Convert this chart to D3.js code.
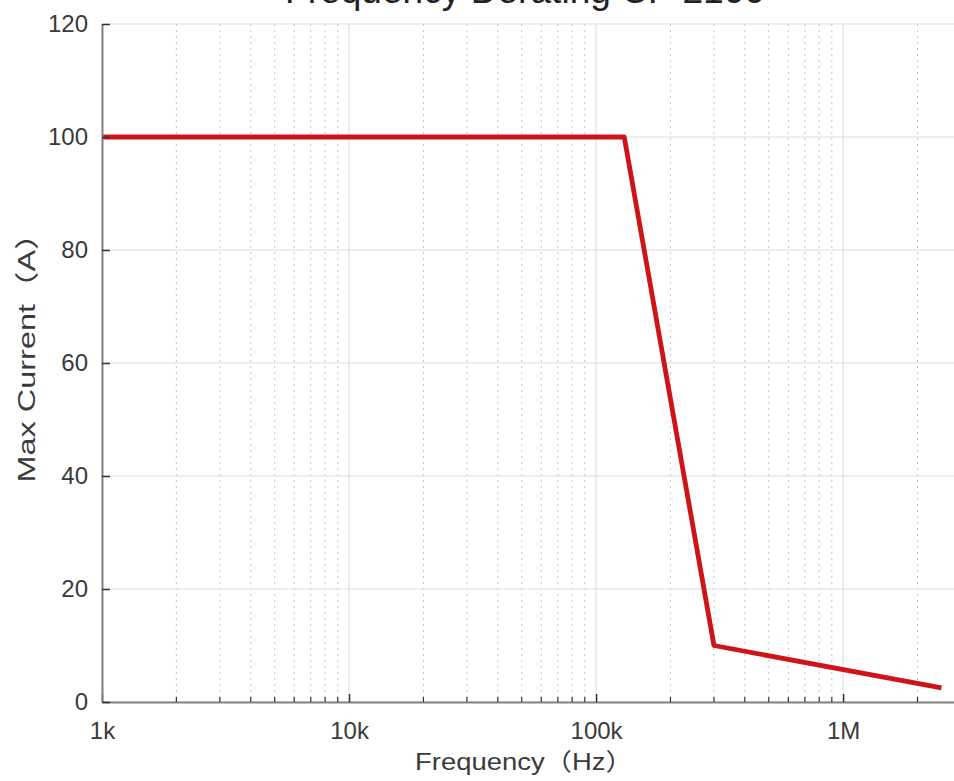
<!DOCTYPE html>
<html>
<head>
<meta charset="utf-8">
<script src="https://cdn.jsdelivr.net/npm/d3@7"></script>
<style>
  html, body { margin: 0; padding: 0; background: #fff; overflow: hidden; }
  svg { display: block; }
  text { font-family: "Liberation Sans", Arial, "Noto Sans CJK SC", sans-serif; }
</style>
</head>
<body>
<svg id="chart" width="954" height="781"></svg>
<script>
// ---- data ----
const frequency = [1000, 130000, 300000, 2500000];   // Hz
const maxCurrent = [100, 100, 10, 2.5];              // A
const xTickValues = [1e3, 1e4, 1e5, 1e6];
const xTickLabels = ["1k", "10k", "100k", "1M"];
const yTickValues = [0, 20, 40, 60, 80, 100, 120];
const titleText = "Frequency Derating CP 2100";
const xLabelText = "Frequency（Hz）";
const yLabelText = "Max Current（A）";

// ---- layout ----
const plotLeft = 102, plotTop = 24, plotBottom = 702, plotRight = 961;

const svg = d3.select("#chart");
const x = d3.scaleLog().domain([1e3, 3e6]).range([plotLeft, plotRight]);
const y = d3.scaleLinear().domain([0, 120]).range([plotBottom, plotTop]);

// minor tick values (2..9 within each decade)
const minorVals = [];
for (let dec = 1e3; dec < 3e6; dec *= 10) {
  for (let m = 2; m <= 9; m++) {
    const v = dec * m;
    if (v <= 3e6) minorVals.push(v);
  }
}

const grid = svg.append("g");
grid.selectAll("line.minor").data(minorVals).join("line")
  .attr("class", "minor")
  .attr("x1", d => x(d)).attr("x2", d => x(d))
  .attr("y1", plotTop).attr("y2", plotBottom)
  .attr("stroke", "#c4c4c4").attr("stroke-width", 1)
  .attr("stroke-dasharray", "2,4");
grid.selectAll("line.majx").data(xTickValues).join("line")
  .attr("class", "majx")
  .attr("x1", d => x(d)).attr("x2", d => x(d))
  .attr("y1", plotTop).attr("y2", plotBottom)
  .attr("stroke", "#dcdcdc").attr("stroke-width", 1);
grid.selectAll("line.majy").data(yTickValues).join("line")
  .attr("class", "majy")
  .attr("x1", plotLeft).attr("x2", plotRight)
  .attr("y1", d => y(d)).attr("y2", d => y(d))
  .attr("stroke", "#dedede").attr("stroke-width", 1.2);

// data line
const line = d3.line().x((d, i) => x(frequency[i])).y(d => y(d));
svg.append("path")
  .datum(maxCurrent)
  .attr("d", line)
  .attr("fill", "none")
  .attr("stroke", "#cf1418")
  .attr("stroke-width", 4.8)
  .attr("stroke-linejoin", "round");

// axes
const axisColor = "#828282";
const xAxis = d3.axisBottom(x).tickValues(xTickValues)
  .tickFormat((d, i) => xTickLabels[i]).tickSizeInner(-8).tickSizeOuter(0).tickPadding(20);
const gx = svg.append("g").attr("transform", `translate(0,${plotBottom})`).call(xAxis);
gx.select(".domain").attr("stroke", axisColor).attr("stroke-width", 2);
gx.selectAll(".tick line").attr("stroke", "#333").attr("stroke-width", 1.5);
gx.selectAll(".tick text").attr("font-size", 24).attr("fill", "#3a3a3a")
  .attr("font-family", "'Liberation Sans', Arial, sans-serif");

svg.append("g").selectAll("line").data(minorVals).join("line")
  .attr("x1", d => x(d)).attr("x2", d => x(d))
  .attr("y1", plotBottom).attr("y2", plotBottom - 5)
  .attr("stroke", "#333").attr("stroke-width", 1.2);

const yAxis = d3.axisLeft(y).tickValues(yTickValues).tickSizeInner(-8).tickSizeOuter(0).tickPadding(14);
const gy = svg.append("g").attr("transform", `translate(${plotLeft},0)`).call(yAxis);
gy.select(".domain").attr("stroke", axisColor).attr("stroke-width", 2);
gy.selectAll(".tick line").attr("stroke", "#333").attr("stroke-width", 1.5);
gy.selectAll(".tick text").attr("font-size", 24).attr("fill", "#3a3a3a")
  .attr("font-family", "'Liberation Sans', Arial, sans-serif");

// title (partly cut off at the top edge, as in the reference)
svg.append("text")
  .attr("x", 525).attr("y", 3)
  .attr("text-anchor", "middle")
  .attr("font-size", 37).attr("fill", "#222")
  .attr("textLength", 480).attr("lengthAdjust", "spacingAndGlyphs")
  .text(titleText);

// x label
svg.append("text")
  .attr("x", 524).attr("y", 770)
  .attr("text-anchor", "middle")
  .attr("font-size", 24).attr("fill", "#3a3a3a")
  .attr("textLength", 218).attr("lengthAdjust", "spacingAndGlyphs")
  .text(xLabelText);

// y label
svg.append("text")
  .attr("transform", "translate(35,350) rotate(-90)")
  .attr("text-anchor", "middle")
  .attr("font-size", 24).attr("fill", "#3a3a3a")
  .attr("textLength", 265).attr("lengthAdjust", "spacingAndGlyphs")
  .text(yLabelText);
</script>
</body>
</html>
